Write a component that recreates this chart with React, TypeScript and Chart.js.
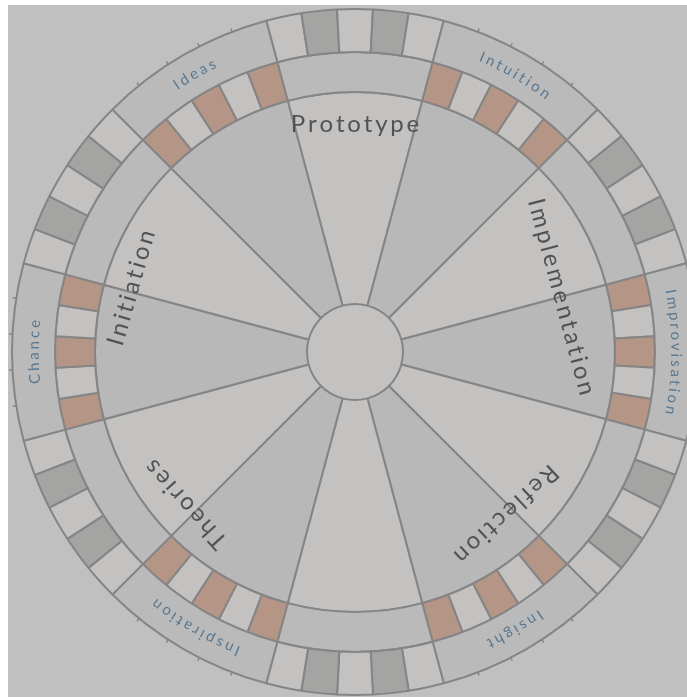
import React, { useEffect, useRef } from "react";
import { Chart, registerables } from "chart.js";

Chart.register(...registerables);

// ---- data ----
const SEGMENT_COUNT = 12;
const SEGMENT_SPAN = 30;
const CELL_SIZES = [6, 6, 6, 6, 6];
const OUTER_LABELS = ["Intuition", "Improvisation", "Insight", "Inspiration", "Chance", "Ideas"];
const INNER_LABELS = ["Prototype", "Implementation", "Reflection", "Theories", "Initiation"];
const INNER_LABEL_ANGLES = [0, 75, 137, 228, 286];
const INNER_LABEL_DEPTHS = [40, 54, 46, 40, 35];
const OUTER_CELL_KINDS = ["light", "dark", "light", "dark", "light"];
const MIDDLE_CELL_KINDS = ["accent", "light", "accent", "light", "accent"];
const PIE_KINDS = ["light", "shade"];

const COLORS: Record<string, string> = {
  bg: "#c0c0c0",
  light: "#c4c2c0",
  shade: "#b8b8b8",
  band: "#bababa",
  dark: "#a4a4a2",
  accent: "#b59585",
  stroke: "#858585",
  innerText: "#525252",
  outerText: "#5a7890",
};

const FONT_FAMILY = "Lato, 'Open Sans', sans-serif";

type Ring = { data: number[]; colors: string[]; labels: string[] };

function buildRings() {
  const outer: Ring = { data: [], colors: [], labels: [] };
  const middle: Ring = { data: [], colors: [], labels: [] };
  const pie: Ring = { data: [], colors: [], labels: [] };
  for (let k = 0; k < SEGMENT_COUNT; k++) {
    const even = k % 2 === 0;
    if (even) {
      CELL_SIZES.forEach((v, i) => {
        outer.data.push(v);
        outer.colors.push(COLORS[OUTER_CELL_KINDS[i]]);
        outer.labels.push("");
      });
      middle.data.push(SEGMENT_SPAN);
      middle.colors.push(COLORS.band);
      middle.labels.push("");
    } else {
      outer.data.push(SEGMENT_SPAN);
      outer.colors.push(COLORS.band);
      outer.labels.push(OUTER_LABELS[(k - 1) / 2]);
      CELL_SIZES.forEach((v, i) => {
        middle.data.push(v);
        middle.colors.push(COLORS[MIDDLE_CELL_KINDS[i]]);
        middle.labels.push("");
      });
    }
    pie.data.push(SEGMENT_SPAN);
    pie.colors.push(COLORS[PIE_KINDS[k % 2]]);
    pie.labels.push("");
  }
  return { outer, middle, pie };
}

function drawArcText(
  ctx: CanvasRenderingContext2D,
  text: string,
  cx: number,
  cy: number,
  r: number,
  mid: number,
  spacing: number
) {
  const chars = Array.from(text);
  const widths = chars.map((c) => ctx.measureText(c).width);
  const total = widths.reduce((a, b) => a + b, 0) + spacing * (chars.length - 1);
  let a = mid - total / (2 * r);
  chars.forEach((c, i) => {
    const w = widths[i];
    const ca = a + w / 2 / r;
    ctx.save();
    ctx.translate(cx + r * Math.cos(ca), cy + r * Math.sin(ca));
    ctx.rotate(ca + Math.PI / 2);
    ctx.fillText(c, 0, 0);
    ctx.restore();
    a += (w + spacing) / r;
  });
}

function drawStraightText(
  ctx: CanvasRenderingContext2D,
  text: string,
  cx: number,
  cy: number,
  r: number,
  mid: number,
  spacing: number
) {
  const chars = Array.from(text);
  const widths = chars.map((c) => ctx.measureText(c).width);
  const total = widths.reduce((a, b) => a + b, 0) + spacing * (chars.length - 1);
  ctx.save();
  ctx.translate(cx + r * Math.cos(mid), cy + r * Math.sin(mid));
  ctx.rotate(mid + Math.PI / 2);
  let x = -total / 2;
  chars.forEach((c, i) => {
    ctx.fillText(c, x + widths[i] / 2, 0);
    x += widths[i] + spacing;
  });
  ctx.restore();
}

export default function App() {
  const canvasRef = useRef<HTMLCanvasElement | null>(null);

  useEffect(() => {
    const canvas = canvasRef.current;
    if (!canvas) return;
    const { outer, middle, pie } = buildRings();

    const bgPlugin = {
      id: "bgPlugin",
      beforeDraw(chart: any) {
        const ctx = chart.ctx as CanvasRenderingContext2D;
        ctx.save();
        ctx.fillStyle = COLORS.bg;
        ctx.fillRect(0, 0, chart.width, chart.height);
        ctx.restore();
      },
      beforeDatasetsDraw(chart: any) {
        const ctx = chart.ctx as CanvasRenderingContext2D;
        const meta = chart.getDatasetMeta(2);
        const arc = meta.data[0];
        if (!arc) return;
        const p = arc.getProps(["x", "y", "innerRadius"], true);
        ctx.save();
        ctx.beginPath();
        ctx.arc(p.x, p.y, p.innerRadius, 0, Math.PI * 2);
        ctx.fillStyle = COLORS.light;
        ctx.fill();
        ctx.restore();
      },
    };

    const decorPlugin = {
      id: "decorPlugin",
      afterDatasetsDraw(chart: any) {
        const ctx = chart.ctx as CanvasRenderingContext2D;
        // outer ring: ticks + curved labels
        const outerMeta = chart.getDatasetMeta(0);
        outerMeta.data.forEach((arc: any, i: number) => {
          const label = outer.labels[i];
          if (!label) return;
          const p = arc.getProps(["x", "y", "startAngle", "endAngle", "innerRadius", "outerRadius"], true);
          const span = p.endAngle - p.startAngle;
          ctx.save();
          ctx.strokeStyle = COLORS.stroke;
          ctx.lineWidth = 1.5;
          for (let j = 1; j < CELL_SIZES.length; j++) {
            const a = p.startAngle + (span * j) / CELL_SIZES.length;
            ctx.beginPath();
            ctx.moveTo(p.x + p.outerRadius * Math.cos(a), p.y + p.outerRadius * Math.sin(a));
            ctx.lineTo(p.x + (p.outerRadius + 3.5) * Math.cos(a), p.y + (p.outerRadius + 3.5) * Math.sin(a));
            ctx.stroke();
          }
          ctx.restore();
          ctx.save();
          ctx.fillStyle = COLORS.outerText;
          ctx.font = `15px ${FONT_FAMILY}`;
          ctx.textAlign = "center";
          ctx.textBaseline = "alphabetic";
          const r = p.innerRadius + (p.outerRadius - p.innerRadius) * 0.38;
          drawArcText(ctx, label, p.x, p.y, r, (p.startAngle + p.endAngle) / 2, 2.8);
          ctx.restore();
        });
        // inner labels
        const pieMeta = chart.getDatasetMeta(2);
        const a0 = pieMeta.data[0];
        if (!a0) return;
        const q = a0.getProps(["x", "y", "outerRadius"], true);
        ctx.save();
        ctx.fillStyle = COLORS.innerText;
        ctx.font = `24px ${FONT_FAMILY}`;
        ctx.textAlign = "center";
        ctx.textBaseline = "alphabetic";
        INNER_LABELS.forEach((label, i) => {
          const mid = ((INNER_LABEL_ANGLES[i] - 90) * Math.PI) / 180;
          drawStraightText(ctx, label, q.x, q.y, q.outerRadius - INNER_LABEL_DEPTHS[i], mid, 2.8);
        });
        ctx.restore();
      },
    };

    const ringDataset = (ring: Ring, weight: number) => ({
      data: ring.data,
      backgroundColor: ring.colors,
      borderColor: COLORS.stroke,
      borderWidth: 2,
      hoverOffset: 0,
      weight,
    });

    const chart = new Chart(canvas, {
      type: "doughnut",
      data: {
        labels: outer.data.map((_, i) => String(i)),
        datasets: [ringDataset(outer, 43), ringDataset(middle, 40), ringDataset(pie, 212)],
      },
      options: {
        responsive: false,
        animation: false,
        events: [],
        cutout: 48,
        rotation: -15,
        layout: { padding: 3 },
        plugins: {
          legend: { display: false },
          tooltip: { enabled: false },
        },
      } as any,
      plugins: [bgPlugin, decorPlugin],
    });

    return () => {
      chart.destroy();
    };
  }, []);

  return (
    <div
      style={{
        position: "fixed",
        left: 8,
        top: 5,
        width: 679,
        height: 692,
        overflow: "hidden",
      }}
    >
      <canvas
        ref={canvasRef}
        width={694}
        height={694}
        style={{ display: "block", width: 694, height: 694 }}
      />
    </div>
  );
}
